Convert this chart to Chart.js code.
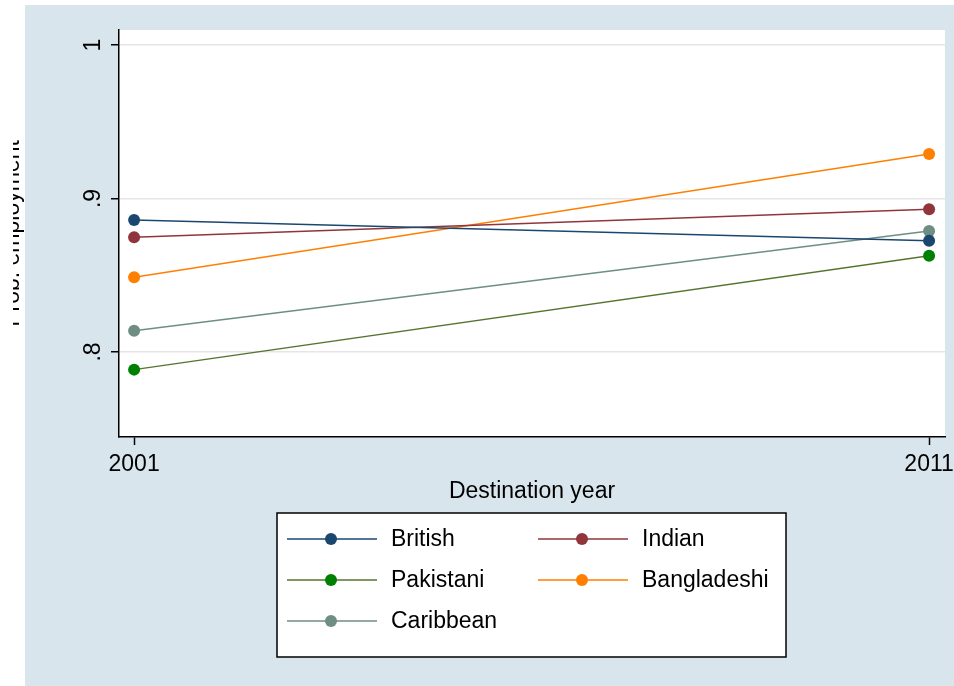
<!DOCTYPE html>
<html>
<head>
<meta charset="utf-8">
<script src="https://cdn.jsdelivr.net/npm/chart.js@4.4.1/dist/chart.umd.min.js"></script>
<style>
  html, body { margin: 0; padding: 0; background: #fff; }
  #wrap { width: 954px; height: 686px; }
</style>
</head>
<body>
<div id="wrap"><canvas id="myChart" width="954" height="686"></canvas></div>
<script>
// data
var years = [2001, 2011];
var groups = ['British', 'Indian', 'Pakistani', 'Bangladeshi', 'Caribbean'];
var british = [0.886, 0.8725];
var indian = [0.8747, 0.893];
var pakistani = [0.7885, 0.8627];
var bangladeshi = [0.8487, 0.929];
var caribbean = [0.8139, 0.8788];
var yTicks = [0.8, 0.9, 1];
var yTickLabels = ['.8', '.9', '1'];

var lineCols = ['#1a476f', '#90353b', '#55752f', '#ff7f00', '#6e8e84'];
var dotCols = ['#1a476f', '#90353b', '#008000', '#ff7f00', '#6e8e84'];
var series = [british, indian, pakistani, bangladeshi, caribbean];

var FONT = '"Liberation Sans", Arial, sans-serif';

function pts(vals) {
  return vals.map(function (v, i) { return {x: years[i], y: v}; });
}

var datasets = groups.map(function (g, i) {
  return {
    label: g,
    data: pts(series[i]),
    borderColor: lineCols[i],
    backgroundColor: dotCols[i],
    pointBackgroundColor: dotCols[i],
    pointBorderWidth: 0,
    pointRadius: 6,
    borderWidth: 1.5,
    tension: 0,
    clip: false
  };
});

// backgrounds, y tick labels, clipped y title, legend
var stataBg = {
  id: 'stataBg',
  beforeDraw: function (chart) {
    var ctx = chart.ctx, a = chart.chartArea;
    ctx.save();
    ctx.fillStyle = '#ffffff';
    ctx.fillRect(0, 0, chart.width, chart.height);
    ctx.fillStyle = '#d9e5ec';
    ctx.fillRect(25, 5, chart.width - 25, chart.height - 5);
    ctx.fillStyle = '#ffffff';
    ctx.fillRect(a.left, a.top, a.right - a.left, a.bottom - a.top);
    ctx.restore();
  },
  afterDraw: function (chart) {
    var ctx = chart.ctx, ys = chart.scales.y, a = chart.chartArea;
    ctx.save();
    ctx.fillStyle = '#000';
    ctx.font = '23px ' + FONT;
    ctx.textAlign = 'center';
    ctx.textBaseline = 'alphabetic';
    ys.ticks.forEach(function (t) {
      var py = ys.getPixelForValue(t.value);
      ctx.save();
      ctx.translate(100, py);
      ctx.rotate(-Math.PI / 2);
      ctx.fillText(t.label, 0, 0);
      ctx.restore();
    });
    // axis title, cut off on its left like the original
    ctx.save();
    ctx.beginPath();
    ctx.rect(13, 0, 12, chart.height);
    ctx.clip();
    ctx.translate(19, (a.top + a.bottom) / 2);
    ctx.rotate(-Math.PI / 2);
    ctx.fillText('Prob. employment', 0, 0);
    ctx.restore();

    // legend box
    var bx = 277, by = 513, bw = 509, bh = 144;
    ctx.fillStyle = '#fff';
    ctx.fillRect(bx, by, bw, bh);
    ctx.strokeStyle = '#000';
    ctx.lineWidth = 1.5;
    ctx.strokeRect(bx, by, bw, bh);
    var cols = [287, 538];
    var rows = [539, 580, 621];
    ctx.textAlign = 'left';
    ctx.textBaseline = 'middle';
    chart.data.datasets.forEach(function (ds, i) {
      var cx = cols[i % 2], cy = rows[Math.floor(i / 2)];
      ctx.strokeStyle = ds.borderColor;
      ctx.lineWidth = 1.5;
      ctx.beginPath();
      ctx.moveTo(cx, cy);
      ctx.lineTo(cx + 90, cy);
      ctx.stroke();
      ctx.fillStyle = ds.pointBackgroundColor;
      ctx.beginPath();
      ctx.arc(cx + 44, cy, 6, 0, Math.PI * 2);
      ctx.fill();
      ctx.fillStyle = '#000';
      ctx.fillText(ds.label, cx + 104, cy + 1);
    });
    ctx.restore();
  }
};

new Chart(document.getElementById('myChart'), {
  type: 'line',
  data: { datasets: datasets },
  plugins: [stataBg],
  options: {
    responsive: false,
    animation: false,
    layout: { padding: { left: 0, top: 30, right: 9, bottom: 179 } },
    plugins: { legend: { display: false }, tooltip: { enabled: false } },
    scales: {
      x: {
        type: 'linear',
        min: 2000.81,
        max: 2011.2,
        afterBuildTicks: function (s) { s.ticks = years.map(function (v) { return {value: v}; }); },
        afterFit: function (s) { s.height = 70; s.paddingLeft = 0; s.paddingRight = 0; },
        ticks: {
          color: '#000',
          font: { family: FONT, size: 23 },
          padding: 6,
          maxRotation: 0,
          autoSkip: false,
          callback: function (v) { return String(v); }
        },
        grid: { drawOnChartArea: false, tickColor: '#000', tickLength: 8, tickWidth: 1.5 },
        border: { color: '#000', width: 1.5 },
        title: {
          display: true,
          text: 'Destination year',
          color: '#000',
          font: { family: FONT, size: 23 },
          padding: { top: 0, bottom: 2 }
        }
      },
      y: {
        type: 'linear',
        min: 0.7446,
        max: 1.0098,
        afterBuildTicks: function (s) { s.ticks = yTicks.map(function (v) { return {value: v}; }); },
        afterFit: function (s) { s.width = 119; s.paddingTop = 0; s.paddingBottom = 0; },
        ticks: {
          display: false,
          callback: function (v) { return yTickLabels[yTicks.indexOf(v)]; }
        },
        grid: { color: '#e6e6e6', lineWidth: 1.5, tickColor: '#000', tickLength: 8, tickWidth: 1.5 },
        border: { color: '#000', width: 1.5 }
      }
    }
  }
});
</script>
</body>
</html>
